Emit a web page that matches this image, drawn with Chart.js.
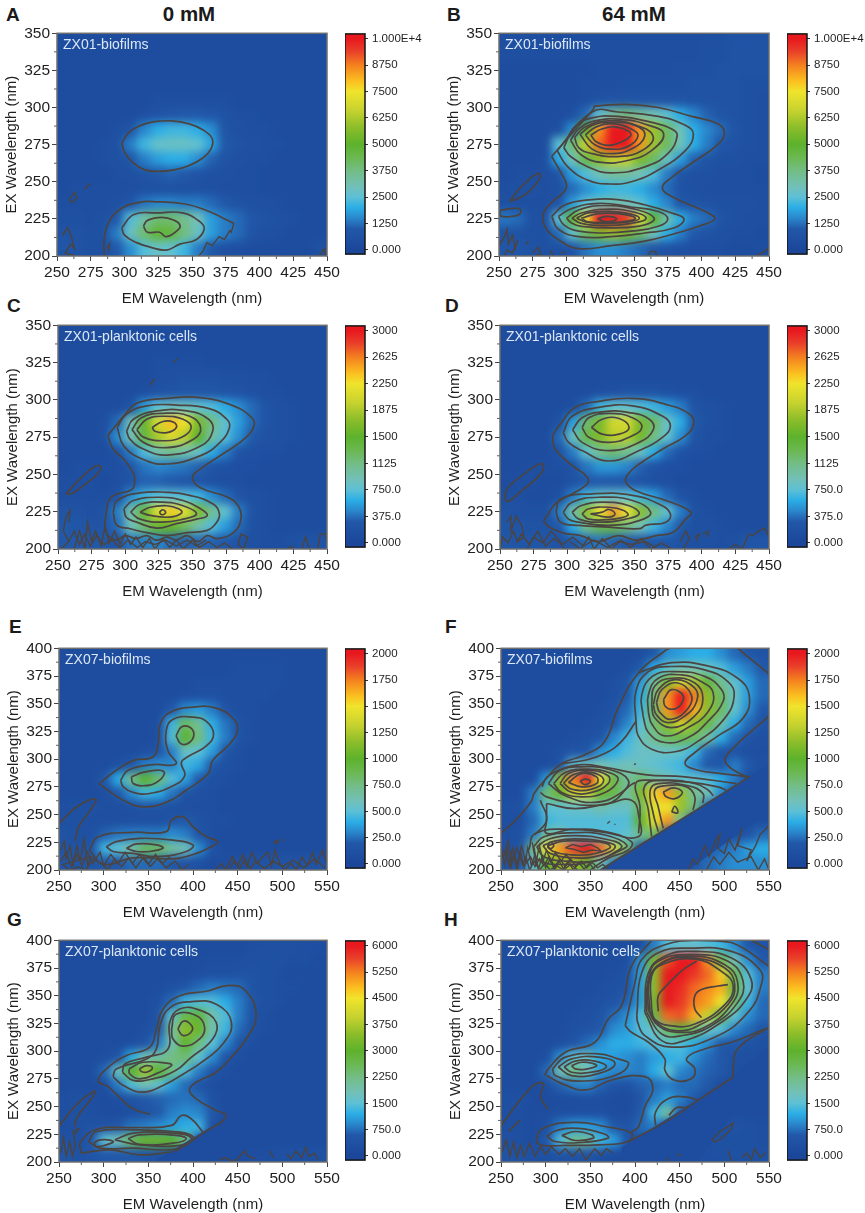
<!DOCTYPE html>
<html>
<head>
<meta charset="utf-8">
<script src="https://cdn.jsdelivr.net/npm/chart.js@4/dist/chart.umd.js"></script>
<style>
html,body{margin:0;padding:0;background:#fff;}
#page{position:relative;width:865px;height:1213px;overflow:hidden;font-family:"Liberation Sans",Arial,sans-serif;color:#1a1a1a;}
canvas{position:absolute;}
.tag{position:absolute;font-weight:bold;font-size:19px;line-height:19px;}
.head{position:absolute;font-weight:bold;font-size:20.5px;line-height:21px;width:120px;text-align:center;}
</style>
</head>
<body>
<div id="page">
<div class="head" style="left:129px;top:3px">0 mM</div>
<div class="head" style="left:574px;top:3px">64 mM</div>
<div class="tag" style="left:6px;top:5px">A</div>
<div class="tag" style="left:447px;top:5px">B</div>
<div class="tag" style="left:7px;top:296px">C</div>
<div class="tag" style="left:445px;top:296px">D</div>
<div class="tag" style="left:9px;top:617px">E</div>
<div class="tag" style="left:445px;top:617px">F</div>
<div class="tag" style="left:7px;top:910px">G</div>
<div class="tag" style="left:444px;top:910px">H</div>
</div>
<script>
// cell centres of the two EEM grids
const cols01 = [255,265,275,285,295,305,315,325,335,345,355,365,375,385,395,405,415,425,435,445];
const rows01 = [345,335,325,315,305,295,285,275,265,255,245,235,225,215,205];
const cols07 = [257.5,272.5,287.5,302.5,317.5,332.5,347.5,362.5,377.5,392.5,407.5,422.5,437.5,452.5,467.5,482.5,497.5,512.5,527.5,542.5];
const rows07 = [393.75,381.25,368.75,356.25,343.75,331.25,318.75,306.25,293.75,281.25,268.75,256.25,243.75,231.25,218.75,206.25];

const emMajor01 = [250,275,300,325,350,375,400,425,450];
const exMajor01 = [200,225,250,275,300,325,350];
const emMajor07 = [250,300,350,400,450,500,550];
const exMajor07 = [200,225,250,275,300,325,350,375,400];

const barTicks10k = [0,1250,2500,3750,5000,6250,7500,8750,10000];
const barLabels10k = ['0.000','1250','2500','3750','5000','6250','7500','8750','1.000E+4'];
const barTicks3k = [0,375,750,1125,1500,1875,2250,2625,3000];
const barLabels3k = ['0.000','375.0','750.0','1125','1500','1875','2250','2625','3000'];
const barTicks2k = [0,250,500,750,1000,1250,1500,1750,2000];
const barLabels2k = ['0.000','250.0','500.0','750.0','1000','1250','1500','1750','2000'];
const barTicks6k = [0,750,1500,2250,3000,3750,4500,5250,6000];
const barLabels6k = ['0.000','750.0','1500','2250','3000','3750','4500','5250','6000'];

// intensity per cell, as percent of the colour bar's top value
const heatA = [
[4,4,4,4,4,4,4,4,4,4,4,4,4,4,4,4,4,4,4,4],
[4,4,4,4,4,4,4,4,4,4,4,4,4,4,4,4,4,4,4,4],
[4,4,4,4,4,4,4,4,4,4,4,4,4,4,4,4,4,4,4,4],
[4,4,4,4,4,4,4,4,4,4,4,4,4,4,4,4,4,4,4,4],
[4,4,4,4,4,4,4,5,5,5,5,5,5,4,4,4,4,4,4,4],
[4,4,4,4,4,4,5,7,9,10,10,9,7,5,5,4,4,4,4,4],
[4,4,4,4,5,8,15,20,22,22,20,16,8,6,5,5,4,4,4,4],
[4,4,4,5,6,14,22,27,28,28,26,19,10,7,6,5,5,4,4,4],
[4,4,4,5,6,9,14,18,20,20,16,11,7,6,5,5,4,4,4,4],
[4,4,4,4,5,6,8,10,11,10,8,6,6,5,5,4,4,4,4,4],
[4,5,5,5,5,5,6,6,6,6,6,6,5,5,5,4,4,4,4,4],
[5,5,5,5,6,9,13,15,15,14,14,12,10,7,6,6,5,4,4,4],
[6,6,5,6,10,24,33,40,40,36,30,18,14,12,9,7,6,5,4,4],
[7,7,6,6,14,28,40,48,47,38,28,18,14,12,8,6,5,4,4,4],
[9,8,6,6,10,16,24,28,26,22,14,10,6,5,4,4,4,4,4,6]];
const heatB = [
[5,5,5,5,5,5,5,5,5,5,5,5,5,5,5,6,6,7,7,7],
[5,5,5,5,5,5,5,5,5,5,5,5,5,5,5,6,6,7,7,7],
[4,4,4,4,4,4,4,5,5,5,5,5,5,6,6,6,7,7,7,7],
[4,4,4,4,4,4,5,5,5,6,6,6,6,6,7,7,7,7,6,6],
[4,4,4,4,4,4,5,7,8,8,8,8,8,8,7,7,7,7,6,5],
[4,4,4,4,4,5,12,26,34,38,34,30,26,20,15,11,8,7,6,5],
[4,4,4,4,5,16,50,85,100,100,85,60,42,30,20,15,12,8,6,5],
[4,4,4,4,25,40,65,90,100,100,85,60,42,30,20,14,9,7,6,5],
[4,4,4,5,20,30,45,58,66,66,55,42,28,18,11,8,6,6,5,5],
[4,5,5,5,8,18,24,30,34,34,30,24,14,8,6,6,5,5,5,4],
[5,6,6,5,6,12,16,20,22,22,20,16,12,7,6,5,5,5,5,5],
[6,5,5,5,8,18,25,30,32,30,26,20,15,9,8,7,6,6,6,5],
[13,12,6,6,25,50,75,100,100,95,70,50,32,20,14,12,8,6,5,5],
[7,7,6,6,12,26,42,55,60,55,42,30,20,14,10,7,6,5,5,4],
[9,9,7,6,6,8,13,16,16,14,12,9,7,6,5,5,5,4,4,5]];
const heatC = [
[4,4,4,4,4,4,4,4,4,4,4,4,4,4,4,4,4,4,4,4],
[4,4,4,4,4,4,4,4,4,4,4,4,4,4,4,4,4,4,4,4],
[4,4,4,4,4,4,4,5,5,5,5,4,4,4,4,4,4,4,4,4],
[4,4,4,4,4,4,4,5,6,7,7,7,6,6,5,5,4,4,4,4],
[4,4,4,4,4,4,5,7,8,9,9,9,8,7,6,5,5,4,4,4],
[4,4,4,4,4,7,18,25,28,28,26,24,20,16,12,8,6,5,4,4],
[4,4,4,5,12,30,52,70,80,75,55,38,26,18,12,8,6,5,4,4],
[4,4,4,5,16,30,47,62,70,64,50,34,24,16,10,7,6,5,4,4],
[4,4,4,4,7,14,24,32,36,32,28,20,14,8,6,5,5,4,4,4],
[4,5,5,5,5,9,13,15,14,13,11,8,6,5,5,4,4,4,4,4],
[5,5,5,4,5,8,11,11,10,9,8,6,5,5,4,4,4,4,4,4],
[5,5,5,5,6,16,22,25,25,24,22,16,12,8,6,5,4,4,4,4],
[8,7,6,7,14,32,52,72,78,72,56,36,26,14,7,5,4,4,4,4],
[10,9,8,8,12,30,40,52,52,42,32,24,18,12,6,5,4,4,4,4],
[10,10,10,10,8,13,14,15,12,11,12,11,10,7,6,5,5,6,8,8]];
const heatD = [
[4,4,4,4,4,4,4,4,4,4,4,4,4,4,4,4,4,4,4,4],
[4,4,4,4,4,4,4,4,4,4,4,4,4,4,4,4,4,4,4,4],
[4,4,4,4,4,4,4,4,4,4,4,4,4,4,4,4,4,4,4,4],
[4,4,4,4,4,4,4,4,4,4,4,4,4,4,4,4,4,4,4,4],
[4,4,4,4,4,4,4,5,6,7,7,7,6,5,5,4,4,4,4,4],
[4,4,4,4,4,5,12,22,26,26,24,22,18,14,8,6,5,4,4,4],
[4,4,4,4,6,18,40,55,68,70,55,42,28,20,10,6,5,4,4,4],
[4,4,4,4,12,28,45,56,65,64,54,38,26,16,8,5,5,4,4,4],
[4,4,4,4,7,14,26,36,40,36,28,20,12,7,5,5,4,4,4,4],
[4,4,5,5,5,7,13,17,17,15,11,7,5,5,4,4,4,4,4,4],
[4,5,5,4,4,7,10,10,10,9,8,6,5,4,4,4,4,4,4,4],
[5,5,4,4,6,14,22,26,27,25,22,18,12,7,5,4,4,4,4,4],
[7,6,6,6,14,32,58,75,85,75,58,38,26,14,6,5,4,4,4,4],
[9,8,7,7,10,20,36,44,44,38,30,22,15,10,6,6,5,4,4,4],
[9,9,9,9,8,10,12,13,11,10,10,9,9,7,6,6,5,6,9,9]];
const heatE = [
[4,4,4,4,4,4,4,4,4,4,4,4,4,4,4,4,4,4,4,4],
[4,4,4,4,4,4,4,4,4,4,4,4,4,5,5,5,5,4,4,4],
[4,4,4,4,4,4,4,4,4,4,5,5,5,5,5,5,5,4,4,4],
[4,4,4,4,4,4,4,4,4,5,6,6,5,5,5,5,4,4,4,4],
[4,4,4,4,4,4,4,4,10,16,18,14,8,5,5,4,4,4,4,4],
[4,4,4,4,4,4,4,5,22,42,35,20,13,7,5,4,4,4,4,4],
[4,4,4,4,4,4,4,5,24,50,38,22,14,7,5,4,4,4,4,4],
[4,4,4,4,4,4,5,8,14,28,25,18,9,5,4,4,4,4,4,4],
[4,4,4,4,6,10,14,16,15,22,19,10,6,5,4,4,4,4,4,4],
[4,4,4,10,20,36,50,40,24,18,10,6,5,4,4,4,4,4,4,4],
[4,4,4,5,10,16,22,20,13,8,6,5,4,4,4,4,4,4,4,4],
[5,6,6,5,5,6,8,8,6,5,5,5,4,4,4,4,4,4,4,4],
[6,6,5,5,5,5,5,5,8,10,7,5,5,4,4,4,4,4,4,4],
[7,6,6,11,13,14,14,14,16,14,8,5,4,4,4,4,4,4,4,4],
[8,7,8,22,26,32,42,42,34,30,16,7,4,4,4,4,4,4,4,4],
[9,9,9,10,10,12,12,12,10,8,6,4,5,6,7,8,8,8,8,8]];
const heatF = [
[4,4,4,4,4,4,4,4,4,4,5,10,16,18,20,20,16,12,10,8],
[4,4,4,4,4,4,4,4,4,5,10,20,26,30,30,28,24,18,14,10],
[4,4,4,4,4,4,4,4,5,8,18,35,55,70,62,48,36,26,18,12],
[4,4,4,4,4,4,4,4,6,10,20,40,85,100,88,58,42,28,18,12],
[4,4,4,4,4,4,4,5,7,12,22,42,85,100,82,58,42,26,16,10],
[4,4,4,4,4,4,5,6,9,15,25,40,58,68,58,45,32,20,12,8],
[4,4,4,4,4,5,6,8,15,22,28,36,42,45,42,32,20,12,8,6],
[4,4,4,4,6,8,9,16,20,24,28,28,28,27,22,12,8,7,5,5],
[4,4,4,4,8,25,28,30,28,30,28,26,24,22,15,10,9,14,10,6],
[4,4,4,18,60,88,100,75,45,34,40,34,30,26,26,24,20,14,5,4],
[4,4,14,40,52,68,68,52,45,34,55,78,85,60,36,30,16,4,4,4],
[5,6,14,26,26,28,28,32,28,28,42,72,75,60,38,12,4,4,4,4],
[5,5,12,22,24,24,24,24,24,24,50,72,85,35,6,4,4,4,4,4],
[5,6,14,34,30,24,24,24,24,26,36,42,8,4,4,4,4,4,8,12],
[6,8,36,75,85,95,100,90,70,40,8,4,4,4,5,10,12,14,18,20],
[8,10,25,50,60,60,50,30,14,4,4,4,4,5,10,12,14,16,16,16]];
const heatG = [
[4,4,4,4,4,4,4,4,4,4,4,4,4,4,5,6,6,6,5,5],
[4,4,4,4,4,4,4,4,4,4,4,5,5,5,6,6,6,5,5,4],
[4,4,4,4,4,4,4,4,4,4,5,6,6,7,7,6,5,4,4,4],
[4,4,4,4,4,4,4,4,6,9,12,14,13,12,7,6,5,5,4,4],
[4,4,4,4,4,4,4,6,12,22,24,24,20,14,9,6,5,4,4,4],
[4,4,4,4,4,4,4,8,26,45,48,32,24,14,7,5,4,4,4,4],
[4,4,4,4,4,4,5,9,34,58,52,32,22,12,6,5,4,4,4,4],
[4,4,4,4,4,5,8,14,30,50,38,25,15,7,5,4,4,4,4,4],
[4,4,4,5,9,20,30,33,38,40,26,16,8,5,4,4,4,4,4,4],
[4,4,4,12,28,50,60,50,38,24,14,8,5,4,4,4,4,4,4,4],
[4,4,4,5,14,24,30,26,18,12,8,5,4,4,4,4,4,4,4,4],
[5,6,5,4,5,7,10,11,12,13,12,6,4,4,4,4,4,4,4,4],
[5,6,5,4,4,5,7,10,14,16,15,10,4,4,4,4,4,4,4,4],
[5,6,7,8,10,13,14,16,18,20,22,5,4,4,4,4,4,4,4,4],
[7,6,10,26,30,42,52,52,50,38,6,4,4,4,4,4,4,4,4,4],
[9,7,8,10,10,10,9,7,5,4,4,4,4,4,5,5,6,6,6,6]];
const heatH = [
[4,4,4,4,4,4,4,4,4,4,5,14,24,26,26,24,22,16,10,8],
[4,4,4,4,4,4,4,4,4,5,16,55,92,100,100,85,45,30,16,10],
[4,4,4,4,4,4,4,4,5,7,18,58,100,100,95,90,78,45,24,14],
[4,4,4,4,4,4,4,5,6,8,18,58,100,97,90,86,82,46,26,14],
[4,4,4,4,4,4,5,6,8,11,18,55,100,95,88,84,75,42,22,12],
[4,4,4,4,4,5,6,8,12,16,24,46,90,92,82,66,45,26,16,12],
[4,4,4,4,4,6,7,10,16,18,24,28,42,48,42,28,24,15,12,8],
[4,4,4,4,5,8,12,16,20,20,22,24,26,24,20,16,10,10,7,6],
[4,4,4,5,16,25,28,20,18,16,14,18,20,22,16,12,10,6,5,5],
[4,4,4,12,30,38,30,18,15,15,14,20,26,15,13,11,10,5,5,4],
[4,4,4,5,11,14,15,11,8,6,11,12,14,12,12,10,4,4,4,4],
[5,6,4,4,4,4,5,5,4,4,8,14,18,14,10,4,4,4,4,4],
[5,5,4,4,5,5,5,5,4,4,10,22,34,10,4,4,4,4,4,4],
[5,5,4,6,14,18,18,16,10,8,12,14,4,4,4,4,5,7,6,5],
[6,5,4,10,24,36,34,22,18,8,4,4,4,4,4,5,6,6,6,5],
[8,7,6,6,7,7,7,6,4,4,4,4,4,5,5,5,6,6,6,6]];

// contour lines, flat em,ex pairs
const ringsA = [
[298,276,303,283,312,288,322,290.5,335,291,348,289,358,285,365,279,364,272,358,266,348,261,337,258,325,257,315,258,306,263,300,270],
[298,219,307,228,324,229,343,229,356,223,359,218,353,211,341,208,331,204,319,206,309,209,300,214],
[314,220,317,224,328,226,337,224,341,221,340,218,331,213,326,216,317,216]];
const linesA = [
[285,200,285,212,288,222,296,231,310,236,325,236.5,345,235,360,231,372,226,381,222]];
const noiseA = [
[381,222,379,216,378,217,374,211,370,213,365,207,361,209,358,203,355,200],
[254,214,258,219,261,212,263,205,260,208,256,202,264,200],
[259,238,263,243,265,239,261,236,259,238],[270,245,275,249],
[287,205,289,208,288,203],[444,200,448,205,449,200]];

const ringsB = [
[289,267,320,299,321,301,348,302,368,300,393,294,412,289,417,283,412,275,395,264,378,253,371,246,378,240,398,232,405,229,410,225,398,220,380,215,358,210,333,207,309,205,294,211,284,220,283,229,290,237,298,243,300,248,296,256],
[293,271,319,297,338,297,368,294,388,288,394,282,388,271,368,258,348,250,332,248.5,316,251,301,260],
[298,273,306,287,319,293,338,294,363,290,378,285.5,382,281,375,269,358,260,333,256,316,260,303,267],
[303,278,309,285.5,321,291,341,292,361,288,372,282,363,271,346,264.5,326,263,311,268],
[306,280,314,287,331,291,348,289,364,281,356,271,338,267,319,269,309,273],
[310,282,319,288,333,290,351,288,358,281,348,272,333,269,319,272],
[314,281.5,322,287,335,289,348,285.5,353,281,346,274,333,272,321,275],
[318,281.5,326,285.5,336,287,346,284,347.5,281,341,277,331,274.5,322,277],
[289,226.7,299,234.5,319,238,338,238,358,234.5,378,229,387,225,380,219,358,215.5,333,213,309,213,294,218],
[294,226.7,304,232,324,235.5,348,233,368,230,375,225,368,220,348,216.7,328.5,215.5,309,216.7,298,221],
[300,225.5,309,231,328,234,353,231,365,225.5,358,221,336,219,311,220,304,222],
[304,225.5,311,229,328,231.5,348,230,359,225.5,348,222,328,220.5,311,222],
[307.5,225.5,316,229,331,230,346,228.5,354,225.5,346,223,328.5,222,314,223],
[311,225.5,323.5,228.5,338,228.5,351,225.5,341,223,326,222.7,316,223],
[323,225,330,226.7,337,225,330,223],
[258,237,264,244,274,253,280,255.5,280,252,273,244,265,239],
[251,231,265,232,266,229,262,227,251,227]];
const linesB = [];
const noiseB = [
[250,207,254,213,256,218,257,208,260,214,262,205,264,211,260,202,256,204,254,200],
[270,208,272,210],[275,202,279,206,281,201,276,200],[288,204,290,200],[296,202,299,203],[360,200,362,203,366,203,367,200],[440,200,447,203,450,206]];

const ringsC = [
[287,276,301,291.5,309,298,331,301,356,301.5,380.5,296,393,289,396,284,390,275,373,264,356,253.7,350,248,356,241,375.5,235,384,229,386,220,380.5,211,368,207,361,209,354,205,346,209,338,206,331,208,323,206,316,209,308,207,300,209,293,206,286,211,286,225,290,235,305,240,307,246,306,251,299,260,291,267],
[294,281.5,301,290.5,316,296,338,296.5,363,294,375.5,287,377.5,281.5,370.5,271.5,356,262.6,331,257,313.5,260,299,269],
[301,279,306,287,323.5,292.6,346,292.6,362,287,365,279,356,269,331,263,313.5,267,303.5,273.7],
[305,280,312,288,328,291,348,289,356,281.5,351,273.7,331,268,313.5,271.5],
[308.6,280,316,287,328,289,343,287,349,281.5,342,275,328,272.6,313.5,275],
[320,281.5,328,285.5,336,285,338,281.5,331,278,322,279],
[291,224.7,294,232.5,311,237.6,331,238,348,236,365.6,230,370,223.6,368,218,361,212.5,346,211,331,209,316,211,303.6,213.6,293.7,216],
[299,227,306,232.5,326,234.7,343,232.5,356,227,361,222.5,353,220,338,217,323.5,214,308.6,218,301,221],
[304,224.7,311,230,328,231.4,343,229,353,223.6,343,220,328,218,311,220],
[311,224.7,318.5,228,331,229,339.6,227,342,224.3,333,221.4,318.5,222.5],
[325.4,224.7,328,226.3,330,224.3,327,223],
[256,237,266.4,247,277.5,255.5,282,255,279,250,269,242.5,260,237]];
const linesC = [];
const noiseC = [
[318,310,322,314],[336,325,339,328],
[258,218,259,226,256,222,254,212,258,205,252,200],
[262,200,266,212,270,200,272,218,275,205,278,212,282,202,285,215,288,204,292,212,296,203,300,210,304,203,308,208,313,201,318,207,322,200,328,207,333,201,338,206,343,200,350,206,355,201,362,205,368,201,374,204,380,200],
[258,205,262,212,266,203,270,210,274,202,279,209,284,203,290,206,296,201,302,206,309,201,315,205,322,203,330,206,338,202,346,206,353,202,360,206],
[388,200,391,208,386,210,384,203,388,200],[420,200,425,202],[431,200,434,208,437,200],[443,200,445,210,449,210,450,205]];

const ringsD = [
[289,276,295,284,306,295,323.5,299,348.5,301,373.4,297,391,290.4,394,284,388,276,371,267,353.5,257,345,250,343.5,245,351,239,373.4,232.5,392,224.7,388,220,378.5,211,366,209,351,206,338,209,323,205,310,209,296,211,283,218,286,223.6,292,231,313.6,242.5,315,248,303.6,256,291,267],
[297,278,303.6,289,323.5,295,348.5,296,371,289,376.7,282.6,371,275,353.5,266,331,259,311,266,301,271.5],
[304,280,311,288,326,292,346,291.5,361,287,364,280,353.5,271.5,331,266,311,271.5],
[311,281.5,316,288,331,291,348.5,288,355.5,281.5,346,275,331,271.5,316,275],
[318,281.5,326,287,338.5,287.5,346,281.5,338.5,277,326,277],
[291.6,224.7,295,233.6,318.6,237,348.5,236,368.5,230,376.7,223.6,373.4,218,358.5,216,353.5,213.6,331,214.7,308.6,215.8,295,218],
[297,224.7,303.6,231.4,323.5,234.7,348.5,232.5,362,224.7,353.5,219,331,215.8,308.6,218,301,220],
[303.6,224.7,310,229,326,231.4,346,229,353.5,223.6,343.5,220,326,218,308.6,220],
[311,223.6,316,227,331,228,342,225.8,345,222.5,333.5,220,316,220],
[317.3,223.6,326,224.7,331,226.5,335.5,223.6,331,221.4,322.3,222.5],
[254,232.5,255,240,266,249,279,257,282.4,256,279,249,266,239,257.5,232.5]];
const linesD = [];
const noiseD = [
[255,218,258,222,258,212,262,222,266,216,268,208,263,205,260,212,256,204,252,208,250,200],
[270,200,275,208,282,204,288,212,294,206,298,200],
[262,204,266,210,272,203,278,212,284,202,290,207,296,203,304,208,312,202,320,206,330,201,338,205,348,203,358,205,366,201],
[302,205,310,200,316,208,320,200,326,207,333,200,340,206,347,201,355,207,362,200,370,204,378,200],
[386,200,391,207,388,212,384,205],[395,208,398,210,396,205],[401,210,405,212,404,208],
[420,200,425,203,430,200,435,210,438,209,442,212,447,214,450,208,450,200]];

const ringsE = [
[295,278,310.7,288,333,298.7,355,302,361,313.6,363,331,374,342,400,347,426,346,444.6,337,450,327,441,313.6,422,298.7,417,287,392.5,272,370,261,344,257,322,263,299.5,275],
[319,281,327.4,290,355,295,381,295.7,372,307.6,370,325.5,377.7,336,400,338,415,334,423,322.5,415,312,396,303,387,297,390.7,285,377.7,276,351.6,269,333,270,322,275],
[331,284,344,288,363,290,368,287,359,279,344,276,333,278],
[381,321,387,329,396,329,401,322.5,396,315,387,313.6],
[284,218,294,230,333,234,370,234.6,376,245,389,248,400,239,415,230,428,225.6,417,219.7,404,215,385,210.7,370,210,333,211,300,205],
[303,221,314,225.6,340.4,228.6,377.7,227,400,222.6,392.5,216.7,359,212,333,215,310.7,216.7],
[325.5,219.7,336.7,223.5,359,222.6,366.5,219.7,351.6,216.7,336.7,216.7]];
const linesE = [
[250,242,270,257,291,264,285,254,272,239,268,226]];
const noiseE = [
[252,218,256,226,258,210,262,222,266,205,270,222,274,208,278,228,282,205,286,212,254,205,262,200,272,203,280,200,290,212],
[252,208,258,216,264,203,270,214,276,204,282,216,288,206,296,216,300,204,308,214,316,206,324,216,332,206,340,214,350,205,358,214,366,206,374,212],
[296,207,305,200,312,210,320,203,328,211,336,202,345,212,352,203,360,210,370,202,380,208,388,200,395,205],
[440,200,446,208,452,201,458,210,464,201,470,208,480,201,490,208,500,203,512,209,524,202,536,210,548,202],
[425,200,432,206,436,200,440,206,444,212,450,204,456,214,460,203,466,216,472,206,478,212,484,216,488,204,492,218,497,206,503,200,510,206,516,200,522,212,528,204,534,216,538,205,545,218,550,205],
[490,225,496,227,494,224,490,225],[501,226,502,228]];

const ringsF = [
[401,334,401,361,415,379,441,383.6,478,380.6,504,370,511,357,500.5,337,471,316.5,445,306.7,418.6,309,403.7,321],
[409,339,407.5,358,420,375,445,379,478,374.7,497,362.7,498.6,352,482,334.4,459.5,319.5,433.5,315,415,324],
[415,342,415,358,426,373,452,376,474,370,487.5,360,482,343,459.5,328.5,433.5,321,419,331.4],
[418.6,349,422,365.7,441,373,467,368.7,476,355,467,339,441,328.5,422,337.4],
[420.5,349,426,362.7,445,371.7,467,364,469,352,456,339,437,333,424,340],
[424,351,430,362.7,448,368.7,463,358,459.5,346,441,336,428,342],
[432,354,441,362.7,454,357,450,348,441,345,433.5,348],
[303,278,316,290,340,293,370,291,392.5,281,385,270,355,261,322,267],
[309,278,322,288,348,291,374,287,381,281,366.5,270,340.4,266,318,270],
[316,278,325.5,287,348,290,370,285,370,278,351.6,270,329,270],
[320,278.4,331,286,351.6,288,365,281,351.6,273,329,273],
[325.5,279,340,287,357,284,357,278,340,275],
[338.6,280,344,282,350,280,344,277],
[431.6,270.3,443,274,453,270,444.6,264.4,435,266],
[441,252.5,444.6,257.5,448,251.5],
[301,260,333,255.4,370,260,396,263,404.4,248,403.7,230,366,234,329,236.7,301,233,301,245],
[286.5,221,298,230,333,233.7,366.5,231.6,390.7,222.6,381,216.7,359,209,322,205,292,209],
[290,221,304,228,333,231,366,228,385,222,375,215,355,208,322,208,298,212],
[297,222,310,226,333,228,362,226,378,221,360,213,333,211,305,215],
[302,222,320,226,345,226,368,224,372,220,350,214,325,214,308,217],
[302,221,305,225,309,222,305,219]];
const linesF = [
[250,233,270,248,284,262,287,269,300,282,318,296,344,304,366,316,381,346,404,378,434,398,439,400],
[515,400,550,377],
[550,339,504,305,502,296,522,285,528,284],
[401,334,385,316,366,305,344,299,318,296],
[404,378,441,387,482,384,515,373,528,357,521,337,493,321,467,306,456,296,471,290,497,287,528,284],
[296,275,301.4,283.7,318,291,340.4,295,366.5,292.7,411,286,456,284,513.5,278],
[294,270,301,266,329,260,348,258.4,374,261,392.5,275,400,279],
[404,233,405.6,257,400.7,278,415,281,463,279,493,275,502,272],
[418.6,230,415,254,411,276,433.5,281,467,278,482,272,487.5,267],
[426,234.6,420.4,251,417,272,426,278,459.5,276,476,269,476,260.5],
[431.6,237.5,426,257,422,272,433.5,276,457.7,275,467,266,465,254],
[294,263,301,245,288,232],
[281,218,288.5,233,333,236.7,366.5,234.6,396,225.6,392.5,218,370,210.7,350,200],
[361,200,528,284]];
const noiseF = [
[322,220,330,223,340,221,350,223,358,220,362,217,352,218,342,216,330,219,322,220],
[369,242,372,244],[377,241,378,241.5],[399,295,401,296],
[250,222,254,205,257,218,261,202,264,214,268,200,272,216,276,202,280,220,284,204,288,214,292,201,296,212,300,202,305,210,310,200,315,208,320,201,325,208,331,200,337,207,343,201,349,206,355,200],
[252,210,258,226,262,206,268,220,274,205,278,212,282,200,287,208,293,200,299,206,305,200,312,204,320,200,328,205,336,200],
[255,216,259,204,263,220,268,205,273,222,278,206,283,212,288,203,293,210,298,204,304,212,310,203,316,210,322,203,328,210,334,203,340,208,346,202,352,207,358,202,364,205,370,201],
[285,225,289,206,293,222,297,208,301,218,306,207,311,216,317,208,323,214,329,207],
[460,200,465,210,470,205,478,222,483,212,490,226,495,232,492,220,500,215,505,228,512,218,520,238,515,222,530,218,525,208,535,222,540,232,550,240],
[480,200,488,212,495,205,505,216,515,207,530,212,538,200,545,210,550,200]];

const ringsG = [
[310.5,277,314,284,348,293,359,302,363,323,374,339,396,344.5,426,342.4,443,326,433.5,306.6,407.5,288.7,392.5,281,366.5,269,344,263,322,269],
[321,281,324,288.7,348,294.6,372,302,374,326,385,338,407.5,337,426,326,422,311,396,293,381,282.7,355,275,333,273.7],
[328.5,284,344,290,374,288.7,376,287,359,279.7,340,275,329,279.7],
[340,284,348,287,354.6,285,348,281,342,281.8],
[376,320,381,333.4,404,332,413,321.5,407.5,311,389,304.5,377.6,311],
[383,320,389,327,397,324.5,399,318.5,389,314],
[283,218.5,292,227.5,333,229,377.6,227.5,400,223,392.5,215.5,374,211,333,212.5,296,212.5],
[312.5,220,333,226,377.6,226,398,222,389,215.5,340,215.5],
[327.4,221,340,224.5,381,224,392.5,221,377.6,217,340,216],
[289,217,296,220,310.7,218.5,303,215.5,292,214]];
const linesG = [
[352,243,333,248,318,258,305,268,294,273,303,284,325.5,296,351.6,303.6,359,320,366.5,338,385,350,415,354,441,359.4,459.5,354,470.7,332,459.5,311,444.6,296,426,281,403.7,272,396,265,403.7,257,422,248,437,241,411,226,379,209],
[275,208,274,218,294,230,333,231,376,233,387,242,398,239,411,227],
[275,208,307,211,340,206.5,376,209],
[250,232,270,252,290,264,287,258,270,240,268,232]];
const noiseG = [
[252,208,255,222,258,205,262,218,265,205,268,215,266,228,272,230,268,225],
[430,202,436,204,446,200,458,210,462,205,470,203],[486,210,490,204],
[505,207,510,203,515,210,522,204,526,213,530,205,536,208,540,202]];

const ringsH = [
[402,332,407.5,370.7,426,388.7,463,393,508,390,539.6,373.7,541.4,360,526.5,335,489,312.5,441,303.6,411,314,403,326],
[411,335,415,370.7,433.5,385.7,467,390,508,384,530,364.8,524.6,346.9,496.7,326,455.8,309.5,429.8,309.5],
[413,335,415,364.8,426,381,463,387,504,381,521,363,515,344,485.6,323,452,314,429.8,315.5],
[415,336.4,415,363,430,379.7,463,385.7,500.5,378,515,361.8,508,342,478,321.5,448,317,426,323],
[416.7,336.4,416.7,364.8,433.5,381,467,384,500.5,375,511.6,360,504,342,470.7,323,445,318.5,424,326],
[418.6,338,418.6,367.8,430,378,467,383,496.7,372,510,358.8,500.5,342,467,324.5,439,323,422,329],
[307.7,284,322,294.6,359,297.6,381,293,393,288.7,377.6,278,336.7,273,310.6,278],
[314,285.7,329,293,359,294.6,377.6,288.7,359,279.7,329,278],
[320.7,285.7,333,291,355,291,368,286,351.6,281,329,281],
[329,287,340.4,290,353.5,288.7,357,286.6,344,283.6,333,284],
[289,218.5,295.8,230,333,235.8,366.5,232,396,226,392.5,218.5,359,215.5,322,215,295.8,215],
[301.4,223,310.6,228,336.7,230.4,366.5,225,370,221.5,340.4,217.6,310.6,218.5],
[318,224,333,227.5,351.6,224.5,353.5,221.5,333,219.4]];
const linesH = [
[250,233,284.6,267.8,297.6,270.7,294,259,303,247],[271.6,238,258.6,227.5],
[298.7,278,303,284,322,299,355,308,370,329,385,341,396,376.7,418.6,400],
[530,400,550,391.6],
[389,323,400,361.8,407.5,382.7,433.5,396,470.7,400,508,398,550,376.7],
[550,321.5,515,302,509.8,284,509.8,276.7],
[389,323,396,317,415,308,433.5,293,433.5,282.7,444.6,273.7,463,275,467,284,457.7,293,478,302,508,308,545,320],
[301,278,320,270,345,265,374,274,411,277,420,266,411,250,404,232,396,227],
[423,233,423,245,437,257,456,258.8,470.7,255.8],
[438,242,446.5,249,456,249,460,250],
[392,218,441,239.4,470.7,255.8,510,276.7],
[426,336,426,350,434,358,446,368,458,376,469,381],
[474.4,330.4,467,338,467,350,474.4,355.6,493,358.8,504,360]];
const noiseH = [
[486,220,496,228,510,235,508,230,498,222,490,218,486,220],
[250,207,256,220,260,205,264,218,268,204,272,215,276,205,282,217,288,205,294,214,300,207,306,214,315,207,322,212,330,205,338,212,345,202,355,212,362,206,368,212,375,208],
[435,200,437,204],[447,207,452,206],[505,210,508,200],[520,204,525,208,530,202,534,212,540,204,546,208]];

// sharp Rayleigh cut below the diagonal
const wedgeF = [361,200,528,284,550,295,550,253,460,200];
const wedgeG = [355,200,437,240,460,240,400,200];
const wedgeH = [385,213,510,277,550,305,550,290,470,200,385,200];

const colourStops = [[0,'#1b4699'],[10,'#2258a8'],[15,'#2a86cc'],[20,'#2bade6'],[25,'#5dc0d6'],[30,'#72c0b8'],[37.5,'#73bd85'],[44,'#6ab84f'],[50,'#5db22c'],[58,'#8cbd2a'],[66,'#c6d22f'],[75,'#f0e42c'],[80,'#fbbf20'],[87.5,'#f4801f'],[94,'#e9402a'],[100,'#e8181f']];

function hexRgb(h) { return [1,3,5].map(i => parseInt(h.substr(i,2),16)); }
function colourFor(pct) {
  for (let i = 1; i < colourStops.length; i++) {
    if (pct <= colourStops[i][0]) {
      const [a,ca] = colourStops[i-1], [b,cb] = colourStops[i];
      const t = (pct-a)/(b-a), p = hexRgb(ca), q = hexRgb(cb);
      return `rgb(${p.map((v,k) => Math.round(v+(q[k]-v)*t)).join(',')})`;
    }
  }
  return colourStops[colourStops.length-1][1];
}
function toPoints(flat, closed) {
  const pts = [];
  for (let i = 0; i < flat.length; i += 2) pts.push({x:flat[i], y:flat[i+1]});
  if (closed) pts.push({x:flat[0], y:flat[1]});
  return pts;
}

const textColour = '#1f1f1f';
const lineColour = '#4b4441';

// smooths the heat cells once they are painted, edges padded so the frame stays blue
const smoothHeat = {
  id:'smoothHeat',
  afterDatasetDraw(chart, args) {
    if (chart.data.datasets[args.index].label !== 'heat') return;
    const {left,top,width:w,height:h} = chart.chartArea, m = 20, src = chart.canvas;
    const t = document.createElement('canvas');
    t.width = w+2*m; t.height = h+2*m;
    const c = t.getContext('2d');
    c.drawImage(src,left,top,1,h,0,m,m,h);
    c.drawImage(src,left+w-1,top,1,h,w+m,m,m,h);
    c.drawImage(src,left,top,w,1,m,0,w,m);
    c.drawImage(src,left,top+h-1,w,1,m,h+m,w,m);
    c.drawImage(src,left,top,w,h,m,m,w,h);
    const ctx = chart.ctx;
    ctx.save();
    ctx.beginPath(); ctx.rect(left,top,w,h); ctx.clip();
    ctx.filter = 'blur(4px)';
    ctx.drawImage(t,left-m,top-m);
    ctx.restore();
  },
  afterDraw(chart, args, opts) {
    const ctx = chart.ctx, a = chart.chartArea;
    ctx.save();
    ctx.strokeStyle = '#5f5f5f'; ctx.lineWidth = 1;
    [chart.scales.x, chart.scales.y].forEach(s => {
      s.ticks.forEach(tk => {
        if (tk.label !== '') return;
        const p = s.getPixelForValue(tk.value);
        ctx.beginPath();
        if (s.axis === 'x') { ctx.moveTo(p,a.bottom); ctx.lineTo(p,a.bottom+3); }
        else { ctx.moveTo(a.left,p); ctx.lineTo(a.left-3,p); }
        ctx.stroke();
      });
    });
    ctx.strokeStyle = '#6e6e6e'; ctx.lineWidth = 1.5;
    ctx.strokeRect(a.left,a.top,a.width,a.height);
    ctx.fillStyle = '#dbe7f5';
    ctx.font = '14px "Liberation Sans"';
    ctx.fillText(opts.caption, a.left+6, a.top+15.7);
    ctx.restore();
  }
};

function addPanel(p) {
  const pad = {left:57, right:20, top:10, bottom:52};
  const cv = document.createElement('canvas');
  cv.width = pad.left+p.w+pad.right; cv.height = pad.top+p.h+pad.bottom;
  cv.style.left = (p.x-pad.left)+'px'; cv.style.top = (p.y-pad.top)+'px';
  document.getElementById('page').appendChild(cv);

  const cells = [], cellColours = [];
  p.rows.forEach((ex,r) => p.cols.forEach((em,c) => {
    cells.push({x:em, y:ex, v:p.heat[r][c]*p.top/100});
    cellColours.push(colourFor(p.heat[r][c]));
  }));
  const datasets = [];
  const lineSet = (flat,closed,tension,width) => datasets.push({
    data:toPoints(flat,closed), showLine:true, pointRadius:0, borderColor:lineColour,
    borderWidth:width, tension:tension, order:1, fill:false
  });
  p.rings.forEach(f => lineSet(f,true,0.45,1.7));
  p.lines.forEach(f => lineSet(f,false,0.45,1.7));
  p.noise.forEach(f => lineSet(f,false,0,1.4));
  if (p.wedge) datasets.push({
    data:toPoints(p.wedge,true), showLine:true, pointRadius:0, borderWidth:0,
    backgroundColor:colourFor(4), fill:'shape', order:5
  });
  datasets.push({label:'heat', data:cells, pointStyle:'rect', pointRadius:11, pointBorderWidth:0,
    pointBackgroundColor:cellColours, order:10});

  const axis = (major,step,min,max,title,fit,titlePad) => ({
    type:'linear', min, max,
    afterFit:fit,
    ticks:{stepSize:step, autoSkip:false, maxRotation:0, padding:2, color:textColour,
      font:{family:'Liberation Sans',size:15.5}, callback:v => major.includes(v) ? String(v) : ''},
    grid:{drawOnChartArea:false, tickLength:5, tickColor:c => (c.tick && major.includes(c.tick.value)) ? '#444' : 'transparent'},
    border:{display:false},
    title:{display:true, text:title, color:textColour, font:{family:'Liberation Sans',size:15}, padding:titlePad}
  });
  new Chart(cv, {
    type:'scatter',
    data:{datasets},
    options:{
      responsive:false, animation:false, devicePixelRatio:1,
      layout:{padding:{top:pad.top, right:pad.right, left:0, bottom:0}},
      plugins:{legend:{display:false}, tooltip:{enabled:false}, smoothHeat:{caption:p.caption}},
      scales:{
        x:axis(p.emMajor,p.emStep,p.emMin,p.emMax,'EM Wavelength (nm)',s => {s.height = pad.bottom;},{top:10,bottom:0}),
        y:axis(p.exMajor,12.5,200,p.exMax,'EX Wavelength (nm)',s => {s.width = pad.left;},{top:3,bottom:0})
      }
    },
    plugins:[smoothHeat]
  });

  // colour bar beside the panel
  const bar = document.createElement('canvas');
  const barW = 20, lab = 62;
  bar.width = barW+lab; bar.height = p.h+2+16;
  bar.style.left = p.barX+'px'; bar.style.top = (p.y-1-8)+'px';
  document.getElementById('page').appendChild(bar);
  const lo = -0.02*p.top, hi = 1.023*p.top;
  new Chart(bar, {
    type:'bar',
    data:{labels:[''], datasets:[{data:[[lo,hi]], barPercentage:1, categoryPercentage:1,
      backgroundColor:c => {
        const s = c.chart.scales.y;
        if (!s || !c.chart.chartArea) return '#1b4699';
        const g = c.chart.ctx.createLinearGradient(0,s.getPixelForValue(0),0,s.getPixelForValue(p.top));
        colourStops.forEach(([v,col]) => g.addColorStop(v/100,col));
        return g;
      }}]},
    options:{
      responsive:false, animation:false, devicePixelRatio:1,
      layout:{padding:{top:8,bottom:8,left:0,right:0}},
      plugins:{legend:{display:false}, tooltip:{enabled:false}},
      scales:{
        x:{display:false},
        y:{position:'right', min:lo, max:hi,
          afterFit:s => {s.width = lab;},
          afterBuildTicks:s => {s.ticks = p.barTicks.map(v => ({value:v}));},
          afterTickToLabelConversion:s => {s.ticks.forEach((t,i) => {t.label = p.barLabels[i];});},
          ticks:{color:textColour, padding:4, font:{family:'Liberation Sans',size:11.5}},
          grid:{drawOnChartArea:false, tickLength:3, tickColor:'#333'},
          border:{display:false}}
      }
    },
    plugins:[{id:'barFrame', afterDraw(chart) {
      const a = chart.chartArea, ctx = chart.ctx;
      ctx.save(); ctx.strokeStyle = '#151515'; ctx.lineWidth = 1.5;
      ctx.strokeRect(a.left,a.top,a.width,a.height); ctx.restore();
    }}]
  });
}

const wide = {cols:cols01, rows:rows01, emMajor:emMajor01, exMajor:exMajor01, emStep:12.5, emMin:250, emMax:450, exMax:350};
const tall = {cols:cols07, rows:rows07, emMajor:emMajor07, exMajor:exMajor07, emStep:25, emMin:250, emMax:550, exMax:400};

addPanel({...wide, x:57, y:32, w:270, h:224, barX:345, top:10000, barTicks:barTicks10k, barLabels:barLabels10k, heat:heatA, rings:ringsA, lines:linesA, noise:noiseA, caption:'ZX01-biofilms'});
addPanel({...wide, x:499, y:32, w:270, h:224, barX:787, top:10000, barTicks:barTicks10k, barLabels:barLabels10k, heat:heatB, rings:ringsB, lines:linesB, noise:noiseB, caption:'ZX01-biofilms'});
addPanel({...wide, x:58, y:324, w:269, h:225, barX:345, top:3000, barTicks:barTicks3k, barLabels:barLabels3k, heat:heatC, rings:ringsC, lines:linesC, noise:noiseC, caption:'ZX01-planktonic cells'});
addPanel({...wide, x:500, y:324, w:269, h:225, barX:787, top:3000, barTicks:barTicks3k, barLabels:barLabels3k, heat:heatD, rings:ringsD, lines:linesD, noise:noiseD, caption:'ZX01-planktonic cells'});
addPanel({...tall, x:59, y:647, w:268, h:223, barX:345, top:2000, barTicks:barTicks2k, barLabels:barLabels2k, heat:heatE, rings:ringsE, lines:linesE, noise:noiseE, caption:'ZX07-biofilms'});
addPanel({...tall, x:501, y:647, w:268, h:223, barX:787, top:2000, barTicks:barTicks2k, barLabels:barLabels2k, heat:heatF, rings:ringsF, lines:linesF, noise:noiseF, wedge:wedgeF, caption:'ZX07-biofilms'});
addPanel({...tall, x:59, y:939, w:268, h:223, barX:345, top:6000, barTicks:barTicks6k, barLabels:barLabels6k, heat:heatG, rings:ringsG, lines:linesG, noise:noiseG, wedge:wedgeG, caption:'ZX07-planktonic cells'});
addPanel({...tall, x:501, y:939, w:268, h:223, barX:787, top:6000, barTicks:barTicks6k, barLabels:barLabels6k, heat:heatH, rings:ringsH, lines:linesH, noise:noiseH, wedge:wedgeH, caption:'ZX07-planktonic cells'});
</script>
</body>
</html>
